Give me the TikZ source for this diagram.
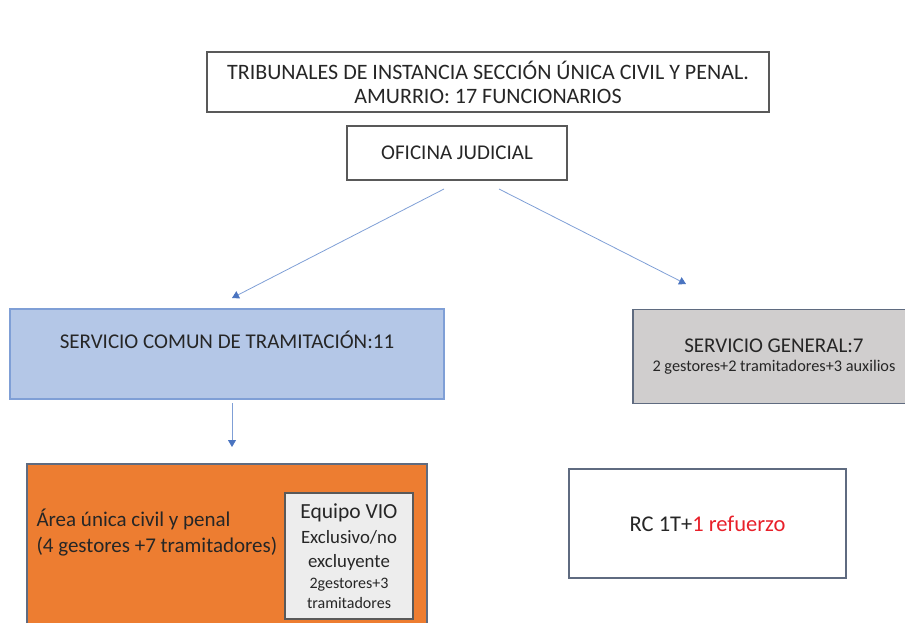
\documentclass[tikz,border=0pt]{standalone}
\usepackage{fontspec}
\setmainfont{Carlito}
\usetikzlibrary{arrows.meta}

\definecolor{azulclaro}{HTML}{B4C7E7}
\definecolor{azulborde}{HTML}{7F9FD6}
\definecolor{flecha}{HTML}{7F9FD6}
\definecolor{punta}{HTML}{4A74C0}
\definecolor{grisclaro}{HTML}{D0CECE}
\definecolor{grisazul}{HTML}{5F6B80}
\definecolor{grisvio}{HTML}{EDEDED}
\definecolor{naranja}{HTML}{ED7D31}
\definecolor{rojo}{HTML}{E8202A}

\tikzset{
  caja/.style={draw=black!65,line width=1.1pt,rectangle,align=center,inner sep=0pt,text=black!85},
  flechita/.style={draw=flecha,line width=0.8pt,-{Triangle[width=8pt,length=7pt,color=punta]}}
}

\begin{document}
\begin{tikzpicture}[x=1pt,y=-1pt,font=\fontsize{21}{26}\selectfont]

\useasboundingbox (0,0) rectangle (905,622);

\node[caja,minimum width=562,minimum height=60,font=\fontsize{22}{24}\selectfont] (tribunal) at (488,82)
  {TRIBUNALES DE INSTANCIA SECCIÓN ÚNICA CIVIL Y PENAL.\\AMURRIO: 17 FUNCIONARIOS};
\node[caja,minimum width=220,minimum height=54] (oficina) at (457,153) {OFICINA JUDICIAL};

\node[caja,draw=azulborde,fill=azulclaro,minimum width=434,minimum height=90] (comun) at (227,354)
  {SERVICIO COMUN DE TRAMITACIÓN:11\\[-6pt]\strut};
\node[caja,draw=grisazul,fill=grisclaro,minimum width=282,minimum height=94] (general) at (774,356.5)
  {SERVICIO GENERAL:7\\[-7pt]{\fontsize{16.3}{20}\selectfont 2 gestores+2 tramitadores+3 auxilios}};

\node[caja,draw=grisazul,fill=naranja,minimum width=400,minimum height=176] (area) at (227,552) {};
\node[anchor=west,align=left,text=black!85] (areatexto) at (33,533)
  {Área única civil y penal\\(4 gestores +7 tramitadores)};% texto del área
\node[caja,fill=grisvio,minimum width=128,minimum height=126,font=\fontsize{18.8}{24}\selectfont] (vio) at (349,556)
  {{\fontsize{21.5}{24}\selectfont Equipo VIO}\\[1pt]Exclusivo/no\\excluyente\\[-3pt]{\fontsize{16}{20}\selectfont 2gestores+3}\\[-4pt]{\fontsize{16}{20}\selectfont tramitadores}};

\node[caja,draw=grisazul,minimum width=277,minimum height=109,font=\fontsize{22.5}{26}\selectfont] (rc) at (707.5,523.5)
  {RC 1T+\textcolor{rojo}{1 refuerzo}};

\coordinate (izq) at (444,189);% salidas de flechas
\coordinate (der) at (499,189);
\coordinate (izqfin) at (232,298);
\coordinate (derfin) at (686,284);
\coordinate (abajo) at (232,403);
\coordinate (abajofin) at (232,447);

\draw[flechita] (izq) -- (izqfin);
\draw[flechita] (der) -- (derfin);
\draw[flechita] (abajo) -- (abajofin);

\end{tikzpicture}
\end{document}
